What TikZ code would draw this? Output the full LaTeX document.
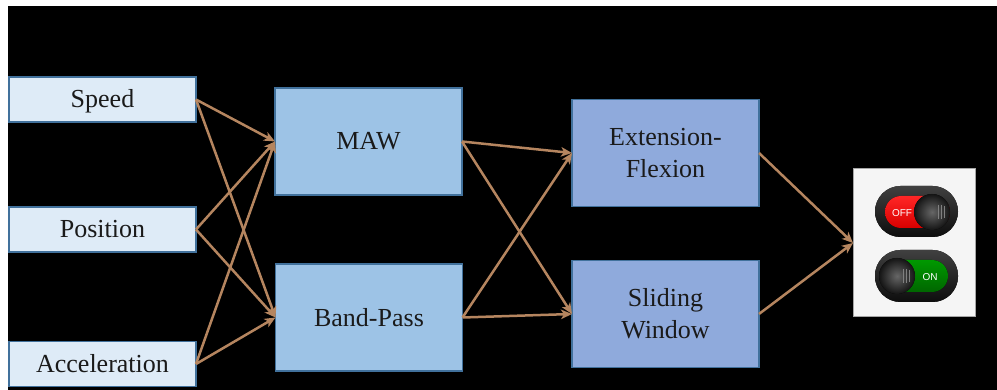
\documentclass[tikz,border=0pt]{standalone}
\usepackage{fontspec}
\setmainfont{Liberation Serif}
\newfontfamily\swfont{Liberation Sans}
\usetikzlibrary{arrows.meta}
\definecolor{infill}{HTML}{DEEBF7}
\definecolor{midfill}{HTML}{9DC3E6}
\definecolor{outfill}{HTML}{8FAADC}
\definecolor{boxline}{HTML}{41719C}
\definecolor{arrcol}{HTML}{B5855F}
\definecolor{txt}{HTML}{1A1A1A}
\tikzset{
  base/.style={draw=boxline, line width=1.3pt, inner sep=0pt, outer sep=0pt, text=txt,
    font=\fontsize{26}{32}\selectfont, align=center, minimum width=187pt},
  inbox/.style={base, fill=infill, minimum height=45pt, text height=19pt, text depth=2pt},
  midbox/.style={base, fill=midfill, minimum height=107pt},
  outbox/.style={base, fill=outfill, minimum height=107pt},
  arr/.style={draw=arrcol, line width=2.5pt, -{Stealth[length=11pt,width=9.5pt,inset=3pt]}},
  pill/.style={rounded corners=25.5pt, top color=black!75, bottom color=black!95},
  knob/.style={shading=radial, inner color=black!60, outer color=black!92},
}
\begin{document}
\begin{tikzpicture}[x=1pt,y=-1pt]
\useasboundingbox (0,0) rectangle (997,390);
\fill[white] (0,0) rectangle (997,390);
\fill[black] (8,6) rectangle (997,390);

\node[inbox] (speed) at (102.5,99.5) {Speed};
\node[inbox] (pos) at (102.5,229.5) {Position};
\node[inbox] (acc) at (102.5,364) {Acceleration};

\node[midbox] (maw) at (368.5,141.5) {MAW};
\node[midbox] (bp) at (369,317.5) {Band-Pass};

\node[outbox] (ef) at (665.5,153) {Extension-\\Flexion};
\node[outbox] (sw) at (665.5,314) {Sliding\\Window};

\node[draw=gray!70, line width=1pt, fill=black!4, minimum width=122pt, minimum height=148pt, inner sep=0pt, outer sep=0pt] (switch) at (914,243) {};

% switch icons
\fill[pill] (875,186) rectangle (958,237);
\fill[rounded corners=16pt, top color=red!85!white, bottom color=red!85!black] (885,196) rectangle (950,228);
\node[text=white, font=\swfont\fontsize{10}{11}\selectfont] (offtxt) at (902,213) {OFF};
\fill[knob] (932,212) circle (18pt);
\draw[black!50, line width=0.5pt] (938,205) -- (938,219) (941,205) -- (941,219) (944,206) -- (944,218);

\fill[pill] (875,250) rectangle (958,302);
\fill[rounded corners=16pt, top color=green!60!black, bottom color=green!40!black] (885,260) rectangle (948,292);
\node[text=white, font=\swfont\fontsize{10}{11}\selectfont] (ontxt) at (930,277) {ON};
\fill[knob] (897,276) circle (18pt);
\draw[black!50, line width=0.5pt] (903,269) -- (903,283) (906,269) -- (906,283) (909,270) -- (909,282);

% connectors
\draw[arr] (speed.east) -- (maw.west);
\draw[arr] (speed.east) -- (bp.west);
\draw[arr] (pos.east) -- (maw.west);
\draw[arr] (pos.east) -- (bp.west);
\draw[arr] (acc.east) -- (maw.west);
\draw[arr] (acc.east) -- (bp.west);

\draw[arr] (maw.east) -- (ef.west);
\draw[arr] (maw.east) -- (sw.west);
\draw[arr] (bp.east) -- (ef.west);
\draw[arr] (bp.east) -- (sw.west);

\draw[arr] (ef.east) -- (switch.west);
\draw[arr] (sw.east) -- (switch.west);
\end{tikzpicture}
\end{document}
